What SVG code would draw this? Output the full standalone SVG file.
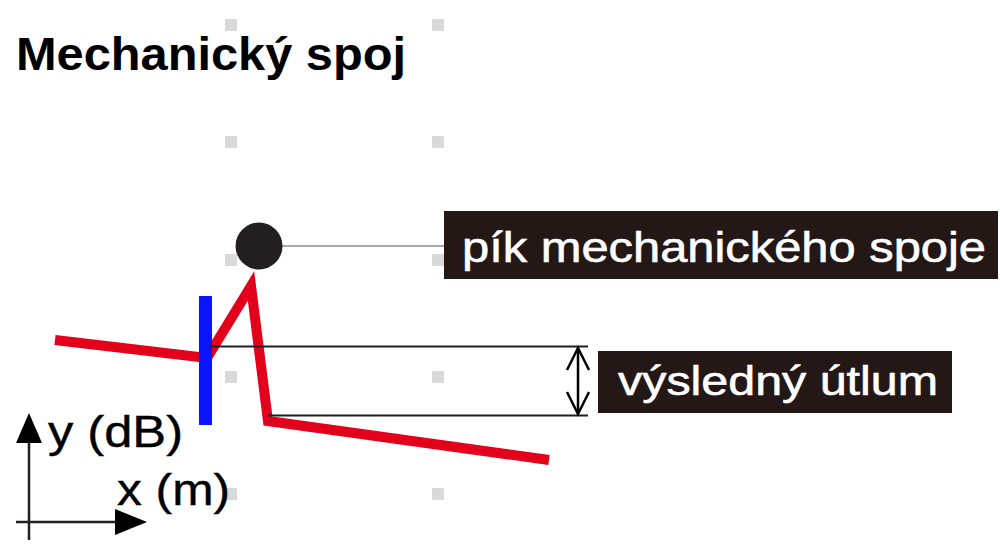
<svg xmlns="http://www.w3.org/2000/svg" width="1000" height="554" viewBox="0 0 1000 554">
<style>
.grid{fill:#d9d9d9}
.lbl{fill:#231815}
.lt{font-family:"Liberation Sans",Arial,sans-serif;fill:#ffffff;stroke:#ffffff;stroke-width:0.6}
.ax{font-family:"Liberation Sans",Arial,sans-serif;fill:#000000;font-size:44px;stroke:#000;stroke-width:0.4}
.dim{stroke:#231f20;stroke-width:2;fill:none}
.chev{fill:none;stroke:#000;stroke-width:2.5}
</style>
<rect width="1000" height="554" fill="#ffffff"/>
<g id="grid-marks">
<rect class="grid" x="225" y="19" width="12" height="12"/>
<rect class="grid" x="432" y="19" width="12" height="12"/>
<rect class="grid" x="225" y="136" width="12" height="12"/>
<rect class="grid" x="432" y="136" width="12" height="12"/>
<rect class="grid" x="225" y="254" width="12" height="12"/>
<rect class="grid" x="432" y="254" width="12" height="12"/>
<rect class="grid" x="225" y="371" width="12" height="12"/>
<rect class="grid" x="432" y="371" width="12" height="12"/>
<rect class="grid" x="225" y="488" width="12" height="12"/>
<rect class="grid" x="432" y="488" width="12" height="12"/>
</g>
<g id="title">
<text x="16" y="70" font-family="'Liberation Sans',Arial,sans-serif" font-weight="bold" font-size="47" textLength="390" lengthAdjust="spacingAndGlyphs" fill="#000">Mechanický spoj</text>
</g>
<g id="trace">
<polyline points="55,340 207,358 251,286 268,421 549,460" fill="none" stroke="#e2001a" stroke-width="10" stroke-linejoin="miter" stroke-miterlimit="6"/>
</g>
<g id="connector-marker">
<rect x="199" y="296" width="13" height="129" fill="#0a14ff"/>
</g>
<g id="connectors">
<line x1="282" y1="246" x2="444" y2="246" stroke="#8a8a8a" stroke-width="1.5"/>
<line class="dim" x1="209" y1="346.5" x2="588" y2="346.5"/>
<line class="dim" x1="268" y1="415.5" x2="588" y2="415.5"/>
<line x1="578" y1="348" x2="578" y2="414" stroke="#000" stroke-width="2.5"/>
<path class="chev" d="M567,370 L578,348 L589,370"/>
<path class="chev" d="M567,392 L578,414 L589,392"/>
</g>
<g id="peak">
<circle cx="259" cy="246" r="23.5" fill="#231f20"/>
</g>
<g id="peak-label">
<rect class="lbl" x="444" y="211" width="554" height="68"/>
<text class="lt" x="462" y="262" font-size="42" textLength="524" lengthAdjust="spacingAndGlyphs">pík mechanického spoje</text>
</g>
<g id="attenuation-label">
<rect class="lbl" x="598" y="351" width="354" height="62"/>
<text class="lt" x="618" y="395" font-size="41" textLength="320" lengthAdjust="spacingAndGlyphs">výsledný útlum</text>
</g>
<g id="axes">
<line x1="29" y1="540" x2="29" y2="440" stroke="#231f20" stroke-width="2.5"/>
<polygon points="29,413 16,443 42,443" fill="#000"/>
<line x1="16" y1="522" x2="118" y2="522" stroke="#231f20" stroke-width="2.5"/>
<polygon points="147,522 115,509 115,535" fill="#000"/>
<text class="ax" x="48" y="447" textLength="135" lengthAdjust="spacingAndGlyphs">y (dB)</text>
<text class="ax" x="117" y="505" textLength="113" lengthAdjust="spacingAndGlyphs">x (m)</text>
</g>
</svg>
